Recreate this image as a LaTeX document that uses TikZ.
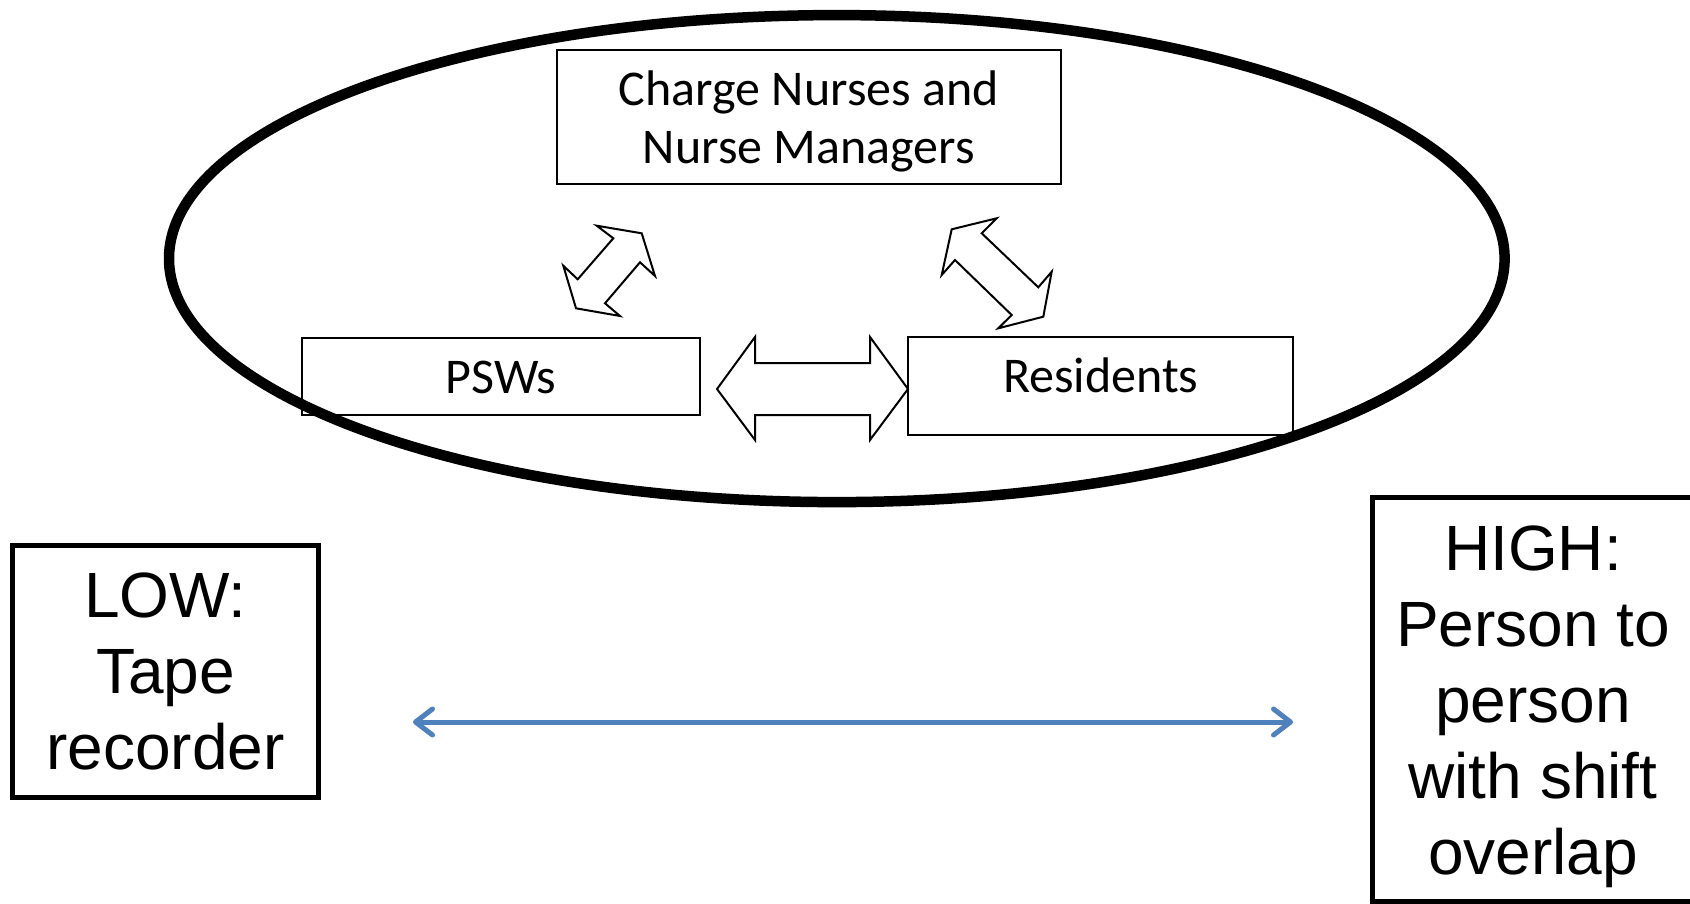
\documentclass[tikz,border=0pt]{standalone}
\usepackage{fontspec}
\setmainfont{Liberation Sans}
\newfontfamily\calfont{Carlito}
\usetikzlibrary{arrows.meta,shapes.geometric}
\definecolor{linkblue}{RGB}{79,129,189}
\tikzset{
  rolebox/.style={draw=black, line width=2pt, fill=white, inner sep=0pt,
    font=\calfont\fontsize{50pt}{53.3pt}\selectfont, align=center},
  roletext/.style={inner sep=0pt, align=center,
    font=\calfont\fontsize{50pt}{58pt}\selectfont},
  levelbox/.style={draw=black, line width=5pt, inner sep=0pt},
  leveltext/.style={inner sep=0pt, align=center,
    font=\fontsize{64pt}{76pt}\selectfont},
  blockarrow/.style={draw=black, line width=2pt, fill=white, line join=miter},
  team/.style={ellipse, draw=black, line width=10.5pt, inner sep=0pt},
  scale link/.style={draw=linkblue, line width=5pt,
    {Straight Barb[length=17pt,width=26pt,round]}-{Straight Barb[length=17pt,width=26pt,round]}}
}
\begin{document}
\begin{tikzpicture}[x=1pt, y=-1pt]
\useasboundingbox[fill=white] (0,0) rectangle (1690,904);

% staff groups
\node[rolebox, minimum width=504pt, minimum height=134pt] (chargebox) at (808.9,117) {};
\node[roletext] (charge) at (808.9,121.5) {Charge Nurses and\\Nurse Managers};
\node[rolebox, anchor=base, minimum width=398pt, text height=55pt, text depth=21.7pt]
  (psw) at (500.9,393.3) {PSWs};
\node[rolebox, anchor=base, minimum width=385pt, text height=55.4pt, text depth=42.3pt]
  (res) at (1100.8,392.7) {Residents};

% two-way block arrows between the groups
\draw[blockarrow] (596.7,225.7) -- (641.7,233.3) -- (655,276) -- (640,262.3)
  -- (605,303.3) -- (620,316) -- (576,308.3) -- (563.3,265.7) -- (577.7,279.3)
  -- (613.3,238.3) -- cycle;
\draw[blockarrow] (951.7,229.3) -- (996.7,218.3) -- (981.7,233.3) -- (1038.3,287.3)
  -- (1051.7,271.7) -- (1043.3,316.7) -- (998.3,328.3) -- (1011.7,315)
  -- (955,260) -- (941.7,275) -- cycle;
\draw[blockarrow] (717,389) -- (755,337) -- (755,363) -- (870,363) -- (870,337)
  -- (908,389) -- (870,440) -- (870,415) -- (755,415) -- (755,440) -- cycle;

% ring around the care team
\node[team, minimum width=1335.6pt, minimum height=487pt] (team) at (836.8,258.6) {};

% communication scale
\node[levelbox, minimum width=306pt, minimum height=252pt] (lowbox) at (165.5,671.5) {};
\node[leveltext] (low) at (165.5,671) {LOW:\\Tape\\recorder};
\node[levelbox, minimum width=321pt, minimum height=404pt] (highbox) at (1533,699.5) {};
\node[leveltext] (high) at (1533,706.5) {HIGH:\\Person to\\person\\with shift\\overlap};

\coordinate (scaleL) at (413,722);
\coordinate (scaleR) at (1293,722);
\draw[scale link] (scaleL) -- (scaleR);
\end{tikzpicture}
\end{document}
